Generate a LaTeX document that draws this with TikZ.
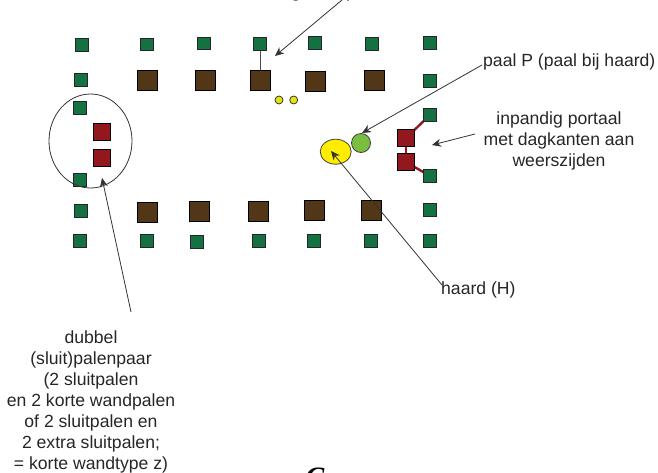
\documentclass[tikz,border=0pt]{standalone}
\usepackage{fontspec}
\usetikzlibrary{shapes.geometric,arrows.meta}
\setmainfont{Liberation Sans}
\newfontfamily\capfont{Liberation Serif}
\begin{document}
\begin{tikzpicture}[x=1pt,y=-1pt,
  greensq/.style={draw=black!85,line width=0.9pt,minimum size=12.8pt,inner sep=0pt,fill={rgb,255:red,20;green,114;blue,66}},
  brownsq/.style={draw=black,line width=0.9pt,fill={rgb,255:red,82;green,54;blue,24},minimum size=20pt,inner sep=0pt},
  redsq/.style={draw=black,line width=0.9pt,fill={rgb,255:red,146;green,24;blue,30},minimum size=17pt,inner sep=0pt},
  dot/.style={circle,draw=black!85,line width=0.7pt,fill={rgb,255:red,226;green,226;blue,20},minimum size=8pt,inner sep=0pt},
  lab/.style={font=\fontsize{17.6}{21}\selectfont,align=center,inner sep=0pt,text=black!85},
  leader/.style={draw=black!80,line width=0.8pt,-{Stealth[length=9pt,width=8pt]}},
  redlink/.style={draw={rgb,255:red,146;green,24;blue,30},line width=2.4pt}]
\useasboundingbox (0,0) rectangle (658,472);
\clip (0,0) rectangle (658,472);
\foreach \n/\x/\y in {a1/82/45,a2/147/44.5,a3/204/43.5,a4/260/44,a5/315/43,a6/372/44,a7/430/43,
  b1/81/80,b7/430/81,c1/80/108,d1/80/180,e1/81/211,e7/430/210,
  f1/80/241,f2/147/241,f3/197/242,f4/259/241,f5/314/241,f6/371/241,f7/430/241}
  \node[greensq] (\n) at (\x,\y) {};
\foreach \n/\x/\y in {b2/147/80.5,b3/205/80,b4/260/80,b5/315/81,b6/374/80,
  e2/147/212,e3/199/211,e4/258/211,e5/314/210,e6/371/210}
  \node[brownsq] (\n) at (\x,\y) {};
\draw[draw=black!70,line width=0.8pt] (a4) -- (b4);
\node[redsq] (r1) at (102,132) {};
\node[redsq] (r2) at (102,158) {};
\coordinate (rc3) at (406,138);
\coordinate (rc4) at (406,162);
\coordinate (gc7) at (430,115);
\coordinate (gd7) at (430,176);
\draw[redlink] (rc3) -- (rc4);
\draw[redlink] (rc3) -- (gc7);
\draw[redlink] (rc4) -- (gd7);
\node[redsq] (r3) at (rc3) {};
\node[redsq] (r4) at (rc4) {};
\node[greensq] (c7) at (gc7) {};
\node[greensq] (d7) at (gd7) {};
\node[draw=black!80,line width=0.8pt,ellipse,minimum width=83pt,minimum height=94pt,inner sep=0pt] (oval) at (90.5,141) {};
\node[dot] (y1) at (279,100) {};
\node[dot] (y2) at (293.7,100) {};
\node[ellipse,draw=black!75,line width=0.8pt,fill={rgb,255:red,255;green,237;blue,0},minimum width=31pt,minimum height=25pt,inner sep=0pt] (H) at (335.7,151.7) {};
\node[circle,draw=black!75,line width=0.8pt,fill={rgb,255:red,122;green,190;blue,64},minimum size=19pt,inner sep=0pt] (P) at (361,143) {};
\node[lab,anchor=base] (tg) at (296,-3) {g};
\node[lab,anchor=base] (tp) at (351,-3) {p};
\node[lab,anchor=base west] (lP) at (483,66) {paal P (paal bij haard)};
\node[lab] (lI) at (559,141) {inpandig portaal\\met dagkanten aan\\weerszijden};
\node[lab,anchor=west] (lH) at (441,290) {haard (H)};
\node[lab] (lD) at (91,402) {dubbel\\(sluit)palenpaar\\(2 sluitpalen\\en 2 korte wandpalen\\of 2 sluitpalen en\\2 extra sluitpalen;\\= korte wandtype z)};
\node[font=\capfont\bfseries\itshape\fontsize{28}{28}\selectfont,anchor=base,inner sep=0pt] (cc) at (315,486) {C};
\coordinate (topstart) at (342,0);
\coordinate (toptip) at (275,56);
\coordinate (Pstart) at (482,65);
\coordinate (Ptip) at (362,133);
\coordinate (Istart) at (475,134);
\coordinate (Itip) at (432,145);
\coordinate (Hstart) at (442,285);
\coordinate (Htip) at (331,151);
\coordinate (Dstart) at (131,312);
\coordinate (Dtip) at (102,178);
\draw[leader] (topstart) -- (toptip);
\draw[leader] (Pstart) -- (Ptip);
\draw[leader] (Istart) -- (Itip);
\draw[leader] (Hstart) -- (Htip);
\draw[leader] (Dstart) -- (Dtip);
\end{tikzpicture}
\end{document}
